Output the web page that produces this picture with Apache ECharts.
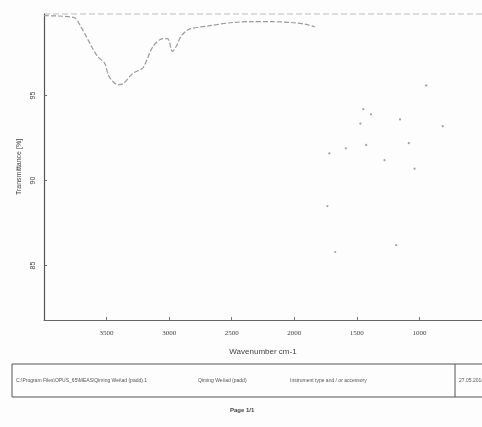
<!DOCTYPE html>
<html>
<head>
<meta charset="utf-8">
<script src="https://cdn.jsdelivr.net/npm/echarts@6/dist/echarts.min.js"></script>
<style>
  html, body { margin: 0; padding: 0; background: #fdfdfd; }
  #chart { width: 482px; height: 427px; }
</style>
</head>
<body>
<div id="chart"></div>
<script>
// IR spectrum, readable part (4000 - 1800 cm-1)
var wavenumbers = [4000, 3763, 3709, 3577, 3515, 3485, 3446, 3407, 3368, 3291, 3237, 3206,
  3128, 3051, 3012, 2974, 2943, 2904, 2842, 2687, 2494, 2339, 2184, 2029, 1913, 1836];
var transmittance = [99.7, 99.6, 99.1, 97.35, 96.9, 96.2, 95.8, 95.65, 95.7, 96.3, 96.5, 96.65,
  97.9, 98.35, 98.35, 97.6, 97.9, 98.5, 98.9, 99.1, 99.3, 99.35, 99.35, 99.3, 99.2, 99.05];
// faded fingerprint region: only scattered dots survive in the scan
var fadedWn = [1735, 1720, 1673, 1588, 1472, 1449, 1426, 1387, 1279, 1186, 1155, 1085, 1039, 946, 814];
var fadedT = [88.5, 91.6, 85.8, 91.9, 93.35, 94.2, 92.1, 93.9, 91.2, 86.2, 93.6, 92.2, 90.7, 95.6, 93.2];
var xTicks = [3500, 3000, 2500, 2000, 1500, 1000];
var yTicks = [85, 90, 95];

var chart = echarts.init(document.getElementById('chart'));
var option = {
  backgroundColor: '#fdfdfd',
  animation: false,
  grid: { left: 44, top: 14, width: 452, height: 306, show: false },
  xAxis: {
    type: 'value',
    inverse: true,
    min: 500, max: 4000, interval: 500,
    name: 'Wavenumber cm-1',
    nameLocation: 'middle',
    nameGap: 28,
    nameTextStyle: { color: '#444', fontSize: 8, fontFamily: 'Liberation Sans' },
    axisLine: { lineStyle: { color: '#666', width: 1 } },
    axisTick: { customValues: xTicks, length: 3, inside: true, lineStyle: { color: '#777' } },
    axisLabel: {
      customValues: xTicks, color: '#444', fontSize: 7, margin: 10,
      fontFamily: 'Liberation Sans Narrow',
      formatter: function (v) { return String(v); }
    },
    splitLine: { show: false }
  },
  yAxis: {
    type: 'value',
    min: 81.8, max: 99.8,
    name: 'Transmittance [%]',
    nameLocation: 'middle',
    nameGap: 12,
    nameRotate: 90,
    nameTextStyle: { color: '#444', fontSize: 7, fontFamily: 'Liberation Sans' },
    axisLine: { show: true, lineStyle: { color: '#555', width: 1.2 } },
    axisTick: { customValues: yTicks, length: 3, inside: true, lineStyle: { color: '#666' } },
    axisLabel: { customValues: yTicks, rotate: 90, color: '#444', fontSize: 7, margin: 7, fontFamily: 'Liberation Sans' },
    splitLine: { show: false }
  },
  series: [
    {
      type: 'line',
      data: wavenumbers.map(function (w, i) { return [w, transmittance[i]]; }),
      smooth: 0.3,
      showSymbol: false,
      lineStyle: { color: '#9a9a9a', width: 1.2, type: [5, 2] }
    },
    {
      type: 'scatter',
      data: fadedWn.map(function (w, i) { return [w, fadedT[i]]; }),
      symbolSize: 2.2,
      itemStyle: { color: '#8a8a8a' }
    }
  ],
  graphic: [
    { type: 'line', shape: { x1: 44, y1: 14, x2: 482, y2: 14 },
      style: { stroke: '#bdbdbd', lineWidth: 1, lineDash: [6, 3] } },
    { type: 'rect', shape: { x: 12, y: 364, width: 480, height: 33 },
      style: { fill: 'none', stroke: '#555', lineWidth: 1 } },
    { type: 'line', shape: { x1: 455, y1: 364, x2: 455, y2: 397 },
      style: { stroke: '#555', lineWidth: 1 } },
    { type: 'text', left: 16, top: 378,
      style: { text: 'C:\\Program Files\\OPUS_65\\MEAS\\Qiming Wei\\ad (padd).1', fill: '#555', fontSize: 5, fontFamily: 'Liberation Sans' } },
    { type: 'text', left: 198, top: 378,
      style: { text: 'Qiming Wei\\ad (padd)', fill: '#555', fontSize: 5, fontFamily: 'Liberation Sans' } },
    { type: 'text', left: 290, top: 378,
      style: { text: 'Instrument type and / or accessory', fill: '#555', fontSize: 5, fontFamily: 'Liberation Sans' } },
    { type: 'text', left: 459, top: 378,
      style: { text: '27.05.2014', fill: '#555', fontSize: 5, fontFamily: 'Liberation Sans' } },
    { type: 'text', left: 230, top: 407,
      style: { text: 'Page 1/1', fill: '#444', fontSize: 6, fontWeight: 'bold', fontFamily: 'Liberation Sans' } }
  ]
};
chart.setOption(option);
</script>
</body>
</html>
